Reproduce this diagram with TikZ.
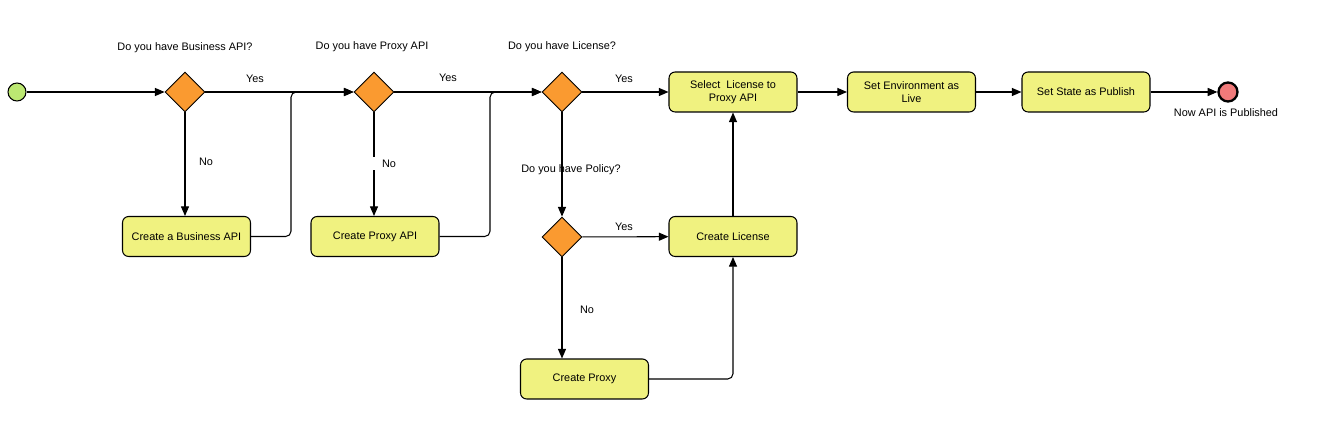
\documentclass[tikz,border=0pt]{standalone}
\usepackage{fontspec}
\setmainfont{Liberation Sans}
\usepackage{tikz}
\usetikzlibrary{arrows.meta}
\usetikzlibrary{shapes.geometric}

\definecolor{boxfill}{HTML}{F0F280}
\definecolor{decfill}{HTML}{FA9A30}
\definecolor{startfill}{HTML}{BCE872}
\definecolor{endfill}{HTML}{F07A7A}

\tikzset{
    txt/.style={font=\fontsize{6.2}{7.6}\selectfont, inner sep=0pt},
    actbox/.style={txt, draw, fill=boxfill, rounded corners=3.5pt, line width=0.6pt,
        minimum width=2.56cm, minimum height=0.8cm, align=center},
    decision/.style={diamond, draw, fill=decfill, line width=0.5pt, inner sep=0pt,
        minimum width=0.8cm, minimum height=0.8cm},
    flow/.style={-{Triangle[length=5.5pt,width=4.6pt]}, line width=0.6pt}
}

\begin{document}
\begin{tikzpicture}[x=0.02cm, y=-0.02cm]
    \useasboundingbox (0,0) rectangle (1320,425);
    \def\rowy{92} % main row

    % Start and end points
    \node[circle, draw, fill=startfill, line width=0.6pt, minimum size=0.36cm, inner sep=0pt] (start) at (17,\rowy) {};
    \node[circle, draw, fill=endfill, line width=1.3pt, minimum size=0.38cm, inner sep=0pt] (finish) at (1228,\rowy) {};
    \node[txt] (finishlbl) at (1226,113) {Now API is Published};

    % Decisions
    \node[decision] (d1) at (185,\rowy) {};
    \node[decision] (d2) at (374,\rowy) {};
    \node[decision] (d3) at (562,\rowy) {};
    \node[decision] (d4) at (562,237) {};

    \node[txt] (q1) at (185,48) {Do you have Business API?};
    \node[txt] (q2) at (372,47) {Do you have Proxy API};
    \node[txt] (q3) at (562,47) {Do you have License?};

    % Activities
    \node[actbox] (select) at (733,\rowy) {Select\ \ License to\\Proxy API};
    \node[actbox] (env) at (911.5,\rowy) {Set Environment as\\Live};
    \node[actbox] (state) at (1086,\rowy) {Set State as Publish};
    \node[actbox] (busapi) at (186.5,236.5) {Create a Business API};
    \node[actbox] (proxyapi) at (375,236.5) {Create Proxy API};
    \node[actbox] (license) at (733,236.5) {Create License};
    \node[actbox] (proxy) at (584.5,379) {Create Proxy};

    % Draw main flow
    \draw[flow] (start) -- (d1);
    \draw[flow] (d1) -- (d2);
    \draw[flow] (d2) -- (d3);
    \draw[flow] (d3) -- (select);
    \draw[flow] (select) -- (env);
    \draw[flow] (env) -- (state);
    \draw[flow] (state) -- (finish);

    % Draw branches
    \draw[flow] (d1) -- (d1 |- busapi.north);
    \draw[flow] (d2) -- (d2 |- proxyapi.north);
    \draw[flow] (d3) -- (d4);
    \draw[flow] (d4) -- (license);
    \draw[flow] (d4) -- (d4 |- proxy.north);
    \draw[flow] (license) -- (select);

    % Draw returns
    \draw[flow, rounded corners=3pt] (busapi.east) -- (291,236.5) -- (291,\rowy) -- (d2.west);
    \draw[flow, rounded corners=3pt] (proxyapi.east) -- (490,236.5) -- (490,\rowy) -- (d3.west);
    \draw[flow, rounded corners=3pt] (proxy.east) -| (license.south);

    % Draw labels on connectors
    \node[txt] (yes1) at (255,79) {Yes};
    \node[txt] (yes2) at (448,78) {Yes};
    \node[txt] (yes3) at (624,79) {Yes};
    \node[txt] (yes4) at (624,227) {Yes};
    \node[txt] (no1) at (206,162) {No};
    \node[txt, fill=white, anchor=west, inner ysep=1.5pt] (no2) at (372,163.5) {\hspace{5.5pt}No};
    \node[txt] (no4) at (587,310) {No};
    \node[txt] (q4) at (571,170) {Do you have Policy?};
\end{tikzpicture}
\end{document}
